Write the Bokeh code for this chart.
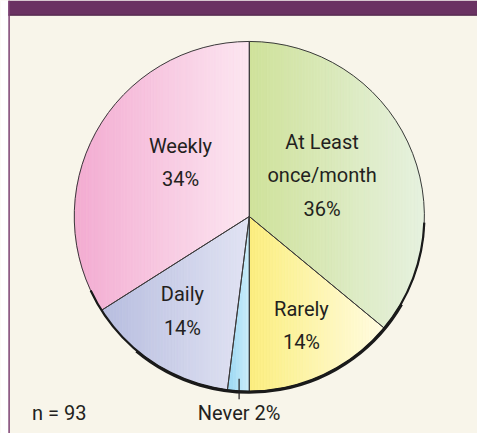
import math
from bokeh.plotting import figure
from bokeh.models import Range1d
from bokeh.core.properties import value
from bokeh.embed import file_html
from bokeh.resources import INLINE

# ---- data ----
categories = ["At Least\nonce/month", "Rarely", "Never", "Daily", "Weekly"]
percents = [36, 14, 2, 14, 34]
n_total = 93

# ---- styles ----
color_left = ["#CFE29A", "#FCEE7E", "#98D6F2", "#B7BDDF", "#F3ABD1"]
color_right = ["#E6F1DF", "#FFFCE2", "#CBEDFA", "#E1E3F3", "#FCE6F1"]

# ---- layout (reference pixel units) ----
W, H = 485, 441
cx, cy, R = 253, 221, 178
label_pos = [(327, 263), (306, 110), None, (185, 125), (183, 276)]
FONT = "Roboto"
FS = "20px"
TXT = "#231F20"

p = figure(width=477, height=433, output_backend="svg", toolbar_location=None,
           x_range=Range1d(0, W), y_range=Range1d(0, H), min_border=0)
p.axis.visible = False
p.grid.visible = False
p.outline_line_color = None
p.background_fill_color = "#F8F5EA"
p.border_fill_color = "#F8F5EA"

# page strip, header bar and left rule
p.quad(left=0, right=8, bottom=0, top=H, fill_color="#FFFFFF", line_color=None)
p.quad(left=8, right=W, bottom=H - 15, top=H, fill_color="#6A3262", line_color=None)
p.segment(x0=8, y0=H - 15, x1=W, y1=H - 15, line_color="#4A2044", line_width=1)
p.quad(left=8, right=9.5, bottom=0, top=H, fill_color="#7B3F72", line_color=None)

# wedge angles (clockwise from 12 o'clock)
total = sum(percents)
starts, ends = [], []
cum = 0
for v in percents:
    starts.append(math.radians(90 - cum / total * 360))
    cum += v
    ends.append(math.radians(90 - cum / total * 360))


def hex2rgb(h):
    return tuple(int(h[i:i + 2], 16) for i in (1, 3, 5))


def mix(c0, c1, t):
    a, b = hex2rgb(c0), hex2rgb(c1)
    return "#%02x%02x%02x" % tuple(round(a[i] + (b[i] - a[i]) * t) for i in range(3))


def clip(poly, xmin, xmax):
    def cut(pts, inside, inter):
        out = []
        for i in range(len(pts)):
            cur, prev = pts[i], pts[i - 1]
            if inside(cur):
                if not inside(prev):
                    out.append(inter(prev, cur))
                out.append(cur)
            elif inside(prev):
                out.append(inter(prev, cur))
        return out

    def ix(xc):
        def f(a, b):
            t = (xc - a[0]) / (b[0] - a[0])
            return (xc, a[1] + t * (b[1] - a[1]))
        return f

    pts = cut(poly, lambda q: q[0] >= xmin, ix(xmin))
    if not pts:
        return pts
    return cut(pts, lambda q: q[0] <= xmax, ix(xmax))


# gradient fills: each sector split into thin vertical bands
xs_all, ys_all, fills = [], [], []
for s, e, cl, cr in zip(starts, ends, color_left, color_right):
    n = max(8, int(abs(s - e) * 60))
    poly = [(cx, cy)] + [(cx + R * math.cos(s + (e - s) * k / n),
                          cy + R * math.sin(s + (e - s) * k / n)) for k in range(n + 1)]
    xmin = min(q[0] for q in poly)
    xmax = max(q[0] for q in poly)
    nb = max(3, int((xmax - xmin) / 3))
    for b in range(nb):
        x0 = xmin + (xmax - xmin) * b / nb
        x1 = xmin + (xmax - xmin) * (b + 1) / nb
        piece = clip(poly, x0, x1)
        if len(piece) < 3:
            continue
        xs_all.append([q[0] for q in piece])
        ys_all.append([q[1] for q in piece])
        fills.append(mix(cl, cr, (b + 0.5) / nb))

p.patches(xs=xs_all, ys=ys_all, fill_color=fills, line_color=fills, line_width=0.8)

# slice outlines
p.wedge(x=[cx] * len(percents), y=[cy] * len(percents), radius=R,
        start_angle=starts, end_angle=ends, direction="clock",
        fill_color=None, line_color="#3A3A3A", line_width=1)

# shadowed rim (thicker lower-right)
p.arc(x=cx, y=cy, radius=R, start_angle=math.radians(90 - 92), end_angle=math.radians(90 - 245),
      direction="clock", line_color="#1A1A1A", line_width=2.2)
p.arc(x=cx, y=cy, radius=R + 0.8, start_angle=math.radians(90 - 120), end_angle=math.radians(90 - 220),
      direction="clock", line_color="#1A1A1A", line_width=2.8)

# labels
label_text = [f"{c}\n{v}%" for c, v in zip(categories, percents)]
lx = [lp[0] for lp in label_pos if lp]
ly = [lp[1] for lp in label_pos if lp]
lt = [t for t, lp in zip(label_text, label_pos) if lp]
p.text(x=lx, y=ly, text=lt, text_font=value(FONT), text_font_size=FS,
       text_align="center", text_baseline="middle", text_color=TXT,
       text_line_height=1.4)

# Never leader line + label
mid = (starts[2] + ends[2]) / 2
mx = cx + R * 0.93 * math.cos(mid)
p.segment(x0=mx, y0=cy + R * 0.93 * math.sin(mid), x1=mx, y1=cy - R - 8,
          line_color=TXT, line_width=1.2)
p.text(x=[mx], y=[21], text=[f"{categories[2]} {percents[2]}%"], text_font=value(FONT),
       text_font_size=FS, text_align="center", text_baseline="middle", text_color=TXT)

p.text(x=[32], y=[21], text=[f"n = {n_total}"], text_font=value(FONT),
       text_font_size=FS, text_align="left", text_baseline="middle", text_color=TXT)

open("out.html", "w").write(file_html(p, INLINE))
